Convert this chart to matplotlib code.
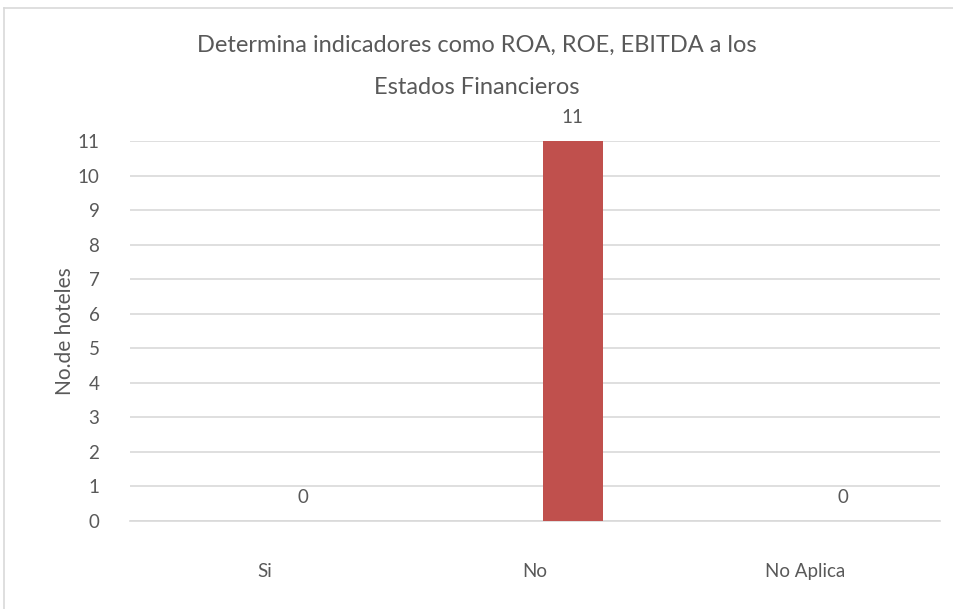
import matplotlib.pyplot as plt
from matplotlib.lines import Line2D

categories = ['Si', 'No', 'No Aplica']
values = [0, 11, 0]
title_lines = ['Determina indicadores como ROA, ROE, EBITDA a los', 'Estados Financieros']
ylabel = 'No.de hoteles'

plt.rcParams['font.family'] = ['Lato', 'DejaVu Sans']

txt = '#595959'
grid = '#D9D9D9'

fig = plt.figure(figsize=(9.54, 6.09), dpi=100)
ax = fig.add_axes([130/954, 1-521/609, 810/954, 380/609])

x = range(len(categories))
# bars sit right of the category centre (single series of a clustered chart)
shift = 0.14
xb = [xi + shift for xi in x]
ax.bar(xb, values, width=0.22, color='#C0504D', zorder=3)
for xi, v in zip(xb, values):
    ax.annotate(str(v), (xi, v), xytext=(0, 11), textcoords='offset points',
                ha='center', va='bottom', fontsize=13.5, color=txt)

ax.set_xlim(-0.5, 2.5)
ax.set_ylim(0, 11)
ax.set_yticks(range(12))
ax.set_xticks(list(x))
ax.set_xticklabels(categories)
ax.yaxis.grid(True, color=grid, lw=1.2, zorder=0)
ax.set_axisbelow(True)
for s in ['top', 'right', 'left']:
    ax.spines[s].set_visible(False)
ax.spines['bottom'].set_color(grid)
ax.spines['bottom'].set_linewidth(1.2)
ax.tick_params(axis='both', length=0, labelsize=13.5, colors=txt)
ax.tick_params(axis='y', pad=22)
ax.tick_params(axis='x', pad=30)
ax.set_ylabel(ylabel, fontsize=15, color=txt, labelpad=2)

for yy, line in zip([45, 88], title_lines):
    fig.text(0.5, 1-yy/609, line, ha='center', va='center', fontsize=17, color=txt)

# chart frame (top and left edges visible)
fig.add_artist(Line2D([4/954, 1], [1-8/609, 1-8/609], transform=fig.transFigure,
                      color=grid, lw=1.2))
fig.add_artist(Line2D([4/954, 4/954], [0, 1-8/609], transform=fig.transFigure,
                      color=grid, lw=1.2))

fig.savefig('out.png', dpi=100)
